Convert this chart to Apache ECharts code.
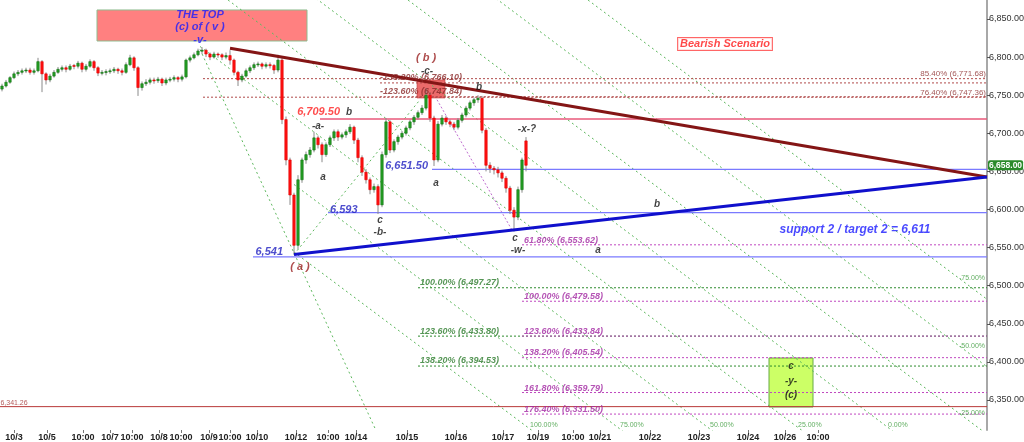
<!DOCTYPE html>
<html><head><meta charset="utf-8">
<script src="https://cdn.jsdelivr.net/npm/echarts@6/dist/echarts.min.js"></script>
<style>html,body{margin:0;padding:0;background:#fff}#c{width:1024px;height:442px}</style>
</head><body><div id="c"></div><script>
// ---- price bars: [open, close, low, high], one per bar index ----
const candles = [
[6758,6762,6755,6765],[6762,6767,6760,6770],[6767,6773,6765,6775],[6773,6778,6771,6781],[6778,6780,6775,6783],
[6780,6782,6777,6785],[6782,6783,6779,6786],[6783,6780,6777,6786],[6780,6782,6777,6785],[6782,6794,6780,6799],
[6794,6778,6754,6796],[6778,6770,6764,6780],[6770,6775,6767,6778],[6775,6780,6773,6783],[6780,6784,6778,6787],
[6784,6786,6781,6789],[6786,6784,6780,6789],[6784,6788,6782,6791],[6789,6788,6784,6791],[6788,6792,6785,6795],
[6792,6784,6780,6794],[6784,6788,6781,6791],[6788,6794,6786,6797],[6794,6786,6782,6796],[6786,6779,6775,6788],
[6779,6780,6776,6783],[6780,6781,6776,6784],[6781,6782,6778,6785],[6782,6784,6779,6787],[6784,6782,6778,6786],
[6782,6780,6776,6785],[6780,6790,6778,6793],[6790,6799,6788,6803],[6799,6786,6782,6801],[6786,6760,6749,6788],
[6760,6765,6756,6768],[6765,6767,6762,6771],[6767,6770,6764,6773],[6770,6769,6765,6773],[6769,6771,6766,6774],
[6771,6766,6762,6773],[6766,6770,6763,6773],[6770,6771,6767,6774],[6771,6773,6768,6776],[6773,6771,6767,6775],
[6771,6774,6768,6777],[6774,6796,6772,6798],[6796,6799,6793,6802],[6799,6803,6797,6806],[6803,6808,6801,6811],
[6808,6809,6804,6813],[6809,6804,6800,6811],[6804,6800,6796,6806],[6800,6804,6798,6807],[6804,6803,6799,6806],
[6803,6800,6796,6805],[6800,6802,6797,6806],[6802,6796,6790,6809],[6796,6780,6776,6798],[6780,6770,6762,6782],
[6770,6775,6767,6778],[6775,6782,6773,6785],[6782,6786,6779,6789],[6786,6790,6783,6793],[6790,6791,6787,6794],
[6791,6788,6784,6793],[6788,6790,6785,6793],[6790,6789,6785,6793],[6789,6783,6778,6791],[6783,6796,6780,6803],
[6796,6718,6712,6800],[6718,6665,6658,6722],[6665,6619,6606,6668],[6619,6553,6541,6622],[6553,6639,6548,6645],
[6639,6665,6635,6668],[6665,6672,6660,6676],[6672,6678,6668,6682],[6678,6694,6675,6702],[6694,6685,6680,6697],
[6685,6672,6662,6688],[6672,6685,6669,6688],[6685,6694,6682,6697],[6694,6702,6690,6705],[6702,6695,6690,6705],
[6695,6698,6692,6701],[6698,6702,6694,6705],[6702,6708,6699,6712],[6708,6691,6686,6710],[6691,6668,6662,6694],
[6668,6649,6644,6671],[6649,6639,6634,6653],[6639,6626,6620,6642],[6626,6630,6622,6634],[6630,6606,6594,6633],
[6606,6672,6603,6676],[6672,6715,6668,6720],[6715,6678,6674,6717],[6678,6689,6675,6692],[6689,6695,6685,6698],
[6695,6700,6692,6703],[6700,6707,6697,6710],[6707,6715,6704,6718],[6715,6721,6711,6724],[6721,6727,6718,6730],
[6727,6733,6724,6737],[6733,6750,6730,6759],[6750,6720,6715,6753],[6720,6665,6657,6723],[6665,6712,6662,6716],
[6712,6720,6709,6724],[6720,6715,6711,6723],[6715,6712,6708,6718],[6712,6708,6704,6715],[6708,6717,6705,6720],
[6717,6724,6714,6727],[6724,6733,6721,6736],[6733,6740,6730,6743],[6740,6744,6736,6747],[6744,6746,6740,6750],
[6746,6704,6700,6749],[6704,6658,6650,6707],[6658,6654,6648,6662],[6654,6652,6646,6657],[6652,6648,6642,6656],
[6648,6641,6636,6651],[6641,6628,6622,6644],[6628,6599,6594,6631],[6599,6590,6571,6603],[6590,6626,6586,6630],
[6626,6665,6622,6668],[6690,6658,6650,6695]
];
const lastPrice = 6658.00;

// ---- axis ticks ----
const xTickPos  = [3, 11.25, 20.25, 27, 32.5, 39.25, 44.75, 51.75, 57, 63.75, 73.5, 81.5, 88.5, 101.25, 113.5, 125.25, 134, 142.75, 149.5, 162, 174.25, 186.5, 195.75, 204];
const xTickText = ['10/3','10/5','10:00','10/7','10:00','10/8','10:00','10/9','10:00','10/10','10/12','10:00','10/14','10/15','10/16','10/17','10/19','10:00','10/21','10/22','10/23','10/24','10/26','10:00'];
const yTicks = [6350, 6400, 6450, 6500, 6550, 6600, 6650, 6700, 6750, 6800, 6850];
const xMin = -0.5, xMax = 246.25, yMin = 6310.6, yMax = 6874.9;

// ---- levels ----
const supportLevels   = [6537.7, 6595.8, 6652.5];
const supportStart    = [62.75, 81.5, 107.5];
const resistanceLevel = 6718.8, resistanceStart = 79.5;
const fibUpperLevels  = [6771.68, 6766.10, 6747.84, 6747.36];
const fibUpperStart   = [50.25, 94.5, 94.5, 50.25];
const fibGreenLevels  = [6497.27, 6433.80, 6394.53];
const fibGreenStart   = 104;
const fibPurpleLevels = [6553.62, 6479.58, 6433.84, 6405.54, 6359.79, 6331.50];
const fibPurpleStart  = 130;
const lowLevel = 6341.26;

// ---- trend lines [x, price] ----
const topTrend    = [[57, 6811.5], [246.25, 6642.7]];
const bottomTrend = [[73, 6541.0], [246.25, 6642.7]];
// parallel channel lines (-75% .. 100%)
const channelLines = [
  [[49.5, 7256.8], [246.25, 6482.2]],
  [[49.5, 7168.2], [246.25, 6393.6]],
  [[49.5, 7079.6], [246.25, 6305.0]],
  [[49.5, 6991.1], [246.25, 6216.5]],
  [[49.5, 6902.5], [246.25, 6127.9]],
  [[49.5, 6813.9], [246.25, 6039.3]],
  [[73, 6632.8], [246.25, 5950.7]],
  [[73, 6544.2], [246.25, 5862.1]]
];
const fanLines = [
  [[49.5, 6810], [93.5, 6310]],
  [[73, 6541], [104.5, 6744]]
];
const purpleDiag = [[108.75, 6744], [127.5, 6573]];

// ---- boxes ----
const topBox   = [[23.75, 6861.8], [76.25, 6821.1]];
const cBox     = [[103.75, 6770], [110.75, 6746.3]];
const yBox     = [[191.75, 6405.1], [202.75, 6340.8]];

// ---- annotations [x, price, text, style, align] ----
const notes = [
  [49.5, 6855.2, 'THE TOP', 'top', 'center'],
  [49.5, 6839.5, '(c) of ( v )', 'top', 'center'],
  [49.5, 6822.5, '-v-', 'top', 'center'],
  [106, 6798.8, '( b )', 'waveRed', 'center'],
  [106.25, 6781.8, '-c-', 'wave', 'center'],
  [119.25, 6760.8, 'b', 'wave', 'center'],
  [84.5, 6727.9, '6,709.50', 'red', 'right'],
  [86.75, 6728, 'b', 'wave', 'center'],
  [79, 6709.6, '-a-', 'wave', 'center'],
  [80.25, 6642.7, 'a', 'wave', 'center'],
  [106.5, 6657.1, '6,651.50', 'blue', 'right'],
  [108.5, 6634.8, 'a', 'wave', 'center'],
  [131.25, 6705.6, '-x-?', 'wave', 'center'],
  [82, 6599.4, '6,593', 'blue', 'left'],
  [94.5, 6586.2, 'c', 'wave', 'center'],
  [94.5, 6570.5, '-b-', 'wave', 'center'],
  [128.25, 6562.6, 'c', 'wave', 'center'],
  [129, 6546.9, '-w-', 'wave', 'center'],
  [149, 6546.9, 'a', 'wave', 'center'],
  [163.75, 6607.2, 'b', 'wave', 'center'],
  [74.5, 6524.5, '( a )', 'waveRed', 'center'],
  [70.25, 6544.2, '6,541', 'blue', 'right'],
  [213.25, 6573.1, 'support 2 / target 2 = 6,611', 'blueBig', 'center'],
  [180.75, 6817.2, 'Bearish Scenario', 'bear', 'center'],
  [197.25, 6394.6, 'c', 'wave', 'center'],
  [197.25, 6374.9, '-y-', 'wave', 'center'],
  [197.25, 6356.6, '(c)', 'wave', 'center'],
  [246, 6777.8, '85.40% (6,771.68)', 'fibDark', 'right'],
  [246, 6752.9, '76.40% (6,747.36)', 'fibDark', 'right'],
  [94.5, 6772.6, '-138.20% (6,766.10)', 'fibDarkIt', 'left'],
  [94.5, 6754.2, '-123.60% (6,747.84)', 'fibDarkIt', 'left'],
  [104.5, 6503.6, '100.00% (6,497.27)', 'fibGreen', 'left'],
  [104.5, 6439.3, '123.60% (6,433.80)', 'fibGreen', 'left'],
  [104.5, 6401.2, '138.20% (6,394.53)', 'fibGreen', 'left'],
  [130.5, 6558.7, '61.80% (6,553.62)', 'fibPurple', 'left'],
  [130.5, 6485.2, '100.00% (6,479.58)', 'fibPurple', 'left'],
  [130.5, 6439.3, '123.60% (6,433.84)', 'fibPurple', 'left'],
  [130.5, 6411.7, '138.20% (6,405.54)', 'fibPurple', 'left'],
  [130.5, 6364.4, '161.80% (6,359.79)', 'fibPurple', 'left'],
  [130.5, 6336.9, '176.40% (6,331.50)', 'fibPurple', 'left'],
  [-0.4, 6346, '6,341.26', 'small', 'left'],
  [132, 6317.2, '100.00%', 'chan', 'left'],
  [154.5, 6317.2, '75.00%', 'chan', 'left'],
  [177, 6317.2, '50.00%', 'chan', 'left'],
  [199, 6317.2, '25.00%', 'chan', 'left'],
  [221.5, 6317.2, '0.00%', 'chan', 'left'],
  [245.75, 6510.1, '-75.00%', 'chan', 'right'],
  [245.75, 6420.9, '-50.00%', 'chan', 'right'],
  [245.75, 6332.9, '-25.00%', 'chan', 'right']
];

const FONT = '"Liberation Sans", Arial, sans-serif';
const noteStyles = {
  top:      {color:'#1a1aff', fontSize:11, fontWeight:'bold', fontStyle:'italic'},
  wave:     {color:'#111', fontSize:10, fontWeight:'bold', fontStyle:'italic'},
  waveRed:  {color:'#9a2020', fontSize:11, fontWeight:'bold', fontStyle:'italic'},
  red:      {color:'#ff2020', fontSize:11, fontWeight:'bold', fontStyle:'italic'},
  blue:     {color:'#2020c0', fontSize:11, fontWeight:'bold', fontStyle:'italic'},
  blueBig:  {color:'#1a1aff', fontSize:12, fontWeight:'bold', fontStyle:'italic'},
  bear:     {color:'#ff1a1a', fontSize:11, fontWeight:'bold', fontStyle:'italic', backgroundColor:'#fff', borderColor:'#ff4040', borderWidth:1, padding:[1,2,0,2]},
  fibDark:  {color:'#8b2a2a', fontSize:8},
  fibDarkIt:{color:'#8b2a2a', fontSize:9, fontStyle:'italic', fontWeight:'bold'},
  fibGreen: {color:'#2b7a2b', fontSize:9, fontStyle:'italic', fontWeight:'bold'},
  fibPurple:{color:'#a228a2', fontSize:9, fontStyle:'italic', fontWeight:'bold'},
  small:    {color:'#a03030', fontSize:7},
  chan:     {color:'#3a9a3a', fontSize:7}
};

function seg(points, color, width, type, z) {
  return {type:'line', data:points, symbol:'none', silent:true, animation:false, clip:true,
          z: z || 2, lineStyle:{color:color, width:width, type:type || 'solid'}};
}
function hseg(level, start, color, width, type, z) {
  return seg([[start, level], [xMax, level]], color, width, type, z);
}
function box(area, fill, border, z) {
  return {type:'line', data:[], z:z||1, silent:true, markArea:{silent:true, z:z||1,
    itemStyle:{color:fill, borderColor:border, borderWidth:border?1:0},
    data:[[{coord:area[0]}, {coord:area[1]}]]}};
}

const series = [];
series.push(box(topBox, '#ff8080', '#8fbc8f', 1));
series.push(box(cBox, 'rgba(232,80,80,0.85)', 'rgba(200,60,60,0.6)', 1));
series.push(box(yBox, '#ccff66', '#66aa44', 1));

channelLines.forEach(l => series.push(seg(l, '#5fb85f', 1, [2, 3], 1)));
fanLines.forEach(l => series.push(seg(l, '#5fb85f', 1, [2, 3], 1)));
series.push(seg(purpleDiag, '#c070d0', 1, [2, 2], 1));

supportLevels.forEach((v, i) => series.push(hseg(v, supportStart[i], '#7a7aff', 1.2, 'solid', 2)));
series.push(hseg(resistanceLevel, resistanceStart, '#e8587a', 1.5, 'solid', 2));
fibUpperLevels.forEach((v, i) => series.push(hseg(v, fibUpperStart[i], '#b04a4a', 1, [2, 2], 2)));
fibGreenLevels.forEach(v => series.push(hseg(v, fibGreenStart, '#2e8b2e', 1, [2, 2], 2)));
fibPurpleLevels.forEach(v => series.push(hseg(v, fibPurpleStart, '#c048c0', 1, [2, 2], 2)));
series.push(hseg(lowLevel, xMin, '#b83838', 1, 'solid', 2));

series.push({
  type:'custom', z:4, clip:true, animation:false, silent:true,
  data: candles.map((d, i) => [i, d[0], d[1], d[2], d[3]]),
  encode:{x:0, y:[1,2,3,4]},
  renderItem: function (params, api) {
    const x = api.value(0);
    const o = api.value(1), c = api.value(2), l = api.value(3), h = api.value(4);
    const pO = api.coord([x, o]), pC = api.coord([x, c]);
    const pL = api.coord([x, l]), pH = api.coord([x, h]);
    const w = api.size([1, 0])[0] * 0.6;
    const up = c >= o;
    const top = Math.min(pO[1], pC[1]);
    const bh = Math.max(1, Math.abs(pO[1] - pC[1]));
    return {type:'group', children:[
      {type:'line', shape:{x1:pL[0], y1:pL[1], x2:pH[0], y2:pH[1]}, style:{stroke:'#8a8a8a', lineWidth:1}},
      {type:'rect', shape:{x:pO[0] - w/2, y:top, width:w, height:bh},
       style:{fill: up ? '#24a024' : '#ff1010', stroke: up ? '#137013' : '#e00000', lineWidth:0.6}}
    ]};
  }
});

series.push(seg(topTrend, '#841515', 3, 'solid', 5));
series.push(seg(bottomTrend, '#1010cc', 3, 'solid', 5));

// annotations
series.push({
  type:'scatter', z:10, silent:true, animation:false, symbolSize:0,
  data: notes.map(n => ({value:[n[0], n[1]],
    label:Object.assign({show:true, position:[0,0], align:n[4], verticalAlign:'middle', formatter:n[2], fontFamily:FONT}, noteStyles[n[3]])}))
});

const fmt2 = v => v.toLocaleString('en-US', {minimumFractionDigits:2, maximumFractionDigits:2});

const chart = echarts.init(document.getElementById('c'), null, {renderer:'canvas'});
chart.setOption({
  animation:false,
  backgroundColor:'#fff',
  grid:{left:0, right:37, top:0, bottom:12, outerBoundsMode:'none', containLabel:false},
  xAxis:{type:'value', min:xMin, max:xMax, splitLine:{show:false},
    axisLine:{show:false, onZero:false},
    axisTick:{show:true, customValues:xTickPos, length:3, lineStyle:{color:'#777'}},
    axisLabel:{show:true, customValues:xTickPos, margin:3, fontSize:9, fontWeight:'bold', color:'#222', fontFamily:FONT,
      hideOverlap:false, showMinLabel:true, showMaxLabel:true,
      formatter:function (v) { const k = xTickPos.indexOf(v); return k >= 0 ? xTickText[k] : ''; }}},
  yAxis:[
    {type:'value', position:'right', min:yMin, max:yMax, splitLine:{show:false},
     axisLine:{show:true, onZero:false, lineStyle:{color:'#a8a8a8', width:2}},
     axisTick:{show:true, customValues:yTicks, length:3, lineStyle:{color:'#555'}},
     axisLabel:{show:true, customValues:yTicks, margin:2, fontSize:9, color:'#333', fontFamily:FONT,
       showMinLabel:true, showMaxLabel:true, formatter:fmt2}},
    {type:'value', position:'right', min:yMin, max:yMax, splitLine:{show:false},
     axisLine:{show:false, onZero:false}, axisTick:{show:false},
     axisLabel:{show:true, customValues:[lastPrice], margin:1, fontSize:8.5, fontWeight:'bold', color:'#fff', fontFamily:FONT,
       backgroundColor:'#2a8a2a', padding:[1,1,0,1], borderRadius:2, hideOverlap:false, formatter:fmt2}}
  ],
  series: series
});
</script></body></html>
